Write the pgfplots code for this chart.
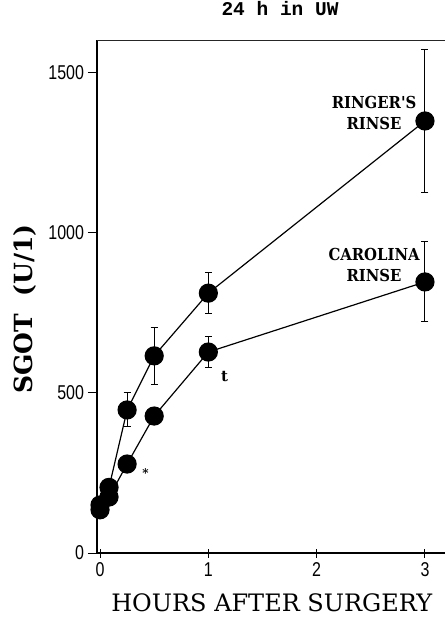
\documentclass[border=0pt]{standalone}
\usepackage{fontspec}
\usepackage{pgfplots}
\usepackage{pgfplotstable}
\pgfplotsset{compat=1.18}
\setmainfont{DejaVu Serif}
\newfontfamily\ticksfont[FakeStretch=0.8]{Liberation Sans}
\newfontfamily\condfont{DejaVu Serif Condensed}
\newfontfamily\titlefont{Liberation Mono}

\pgfplotstableread{
x y err
0 150 0
0.083 205 0
0.25 447 53
0.5 616 89
1 812 65
3 1350 224
}\ringer
\pgfplotstableread{
x y err
0 135 0
0.083 175 0
0.25 278 0
0.5 428 0
1 628 47
3 847 125
}\carolina

\begin{document}
\begin{tikzpicture}
\begin{axis}[
  name=ax,
  scale only axis,
  width=348pt, height=513pt,
  xmin=-0.028, xmax=3.185,
  ymin=0, ymax=1603,
  axis x line*=bottom, axis y line*=left,
  axis line style={-, line width=1.1pt},
  xtick={0,1,2,3}, ytick={0,500,1000,1500},
  xtick align=center, ytick align=outside,
  major tick length=9pt,
  tick style={black, line width=1pt},
  /pgf/number format/assume math mode=true,
  /pgf/number format/1000 sep={},
  ticklabel style={font=\ticksfont\fontsize{20}{20}\selectfont},
  xticklabel style={yshift=-2pt},
  yticklabel style={xshift=-0.5pt},
  xlabel={HOURS AFTER SURGERY},
  xlabel style={font=\fontsize{24}{24}\selectfont, inner sep=0pt, at={(axis description cs:0.502,0)}, anchor=base, yshift=-58pt},
  ylabel={SGOT\ \ (U/1)},
  ylabel style={font=\bfseries\fontsize{25}{25}\selectfont, at={(axis description cs:-0.207,0.476)}, anchor=center},
  title={24 h in UW},
  title style={font=\titlefont\bfseries\fontsize{19.5}{19.5}\selectfont, at={(axis description cs:0.526,1)}, anchor=center, yshift=25pt},
  clip=false,
]
\draw[line width=0.8pt, black!85] (rel axis cs:0,1) -- (rel axis cs:1,1);
\addplot[black, line width=1.2pt, mark=*, mark size=9pt, mark options={solid, fill=black},
  error bars/.cd, y dir=both, y explicit, error bar style={line width=1pt, black},
  error mark options={black, rotate=90, mark size=3.5pt, line width=1pt}]
  table[x=x, y=y, y error=err]{\ringer};
\addplot[black, line width=1.2pt, mark=*, mark size=9pt, mark options={solid, fill=black},
  error bars/.cd, y dir=both, y explicit, error bar style={line width=1pt, black},
  error mark options={black, rotate=90, mark size=3.5pt, line width=1pt}]
  table[x=x, y=y, y error=err]{\carolina};
\node[font=\condfont\bfseries\fontsize{16.5}{21}\selectfont, align=center] at (axis cs:2.53,1375) {RINGER'S\\RINSE};
\node[font=\condfont\bfseries\fontsize{16.5}{21}\selectfont, align=center] at (axis cs:2.53,900) {CAROLINA\\RINSE};
\node[font=\bfseries\fontsize{15}{15}\selectfont] at (axis cs:1.15,553) {t};
\node[font=\bfseries\fontsize{12}{12}\selectfont] at (axis cs:0.42,250) {*};
\end{axis}
\pgfresetboundingbox
\path[use as bounding box] ([xshift=-97pt,yshift=-66pt]ax.south west) rectangle ([yshift=40pt]ax.north east);
\end{tikzpicture}
\end{document}
